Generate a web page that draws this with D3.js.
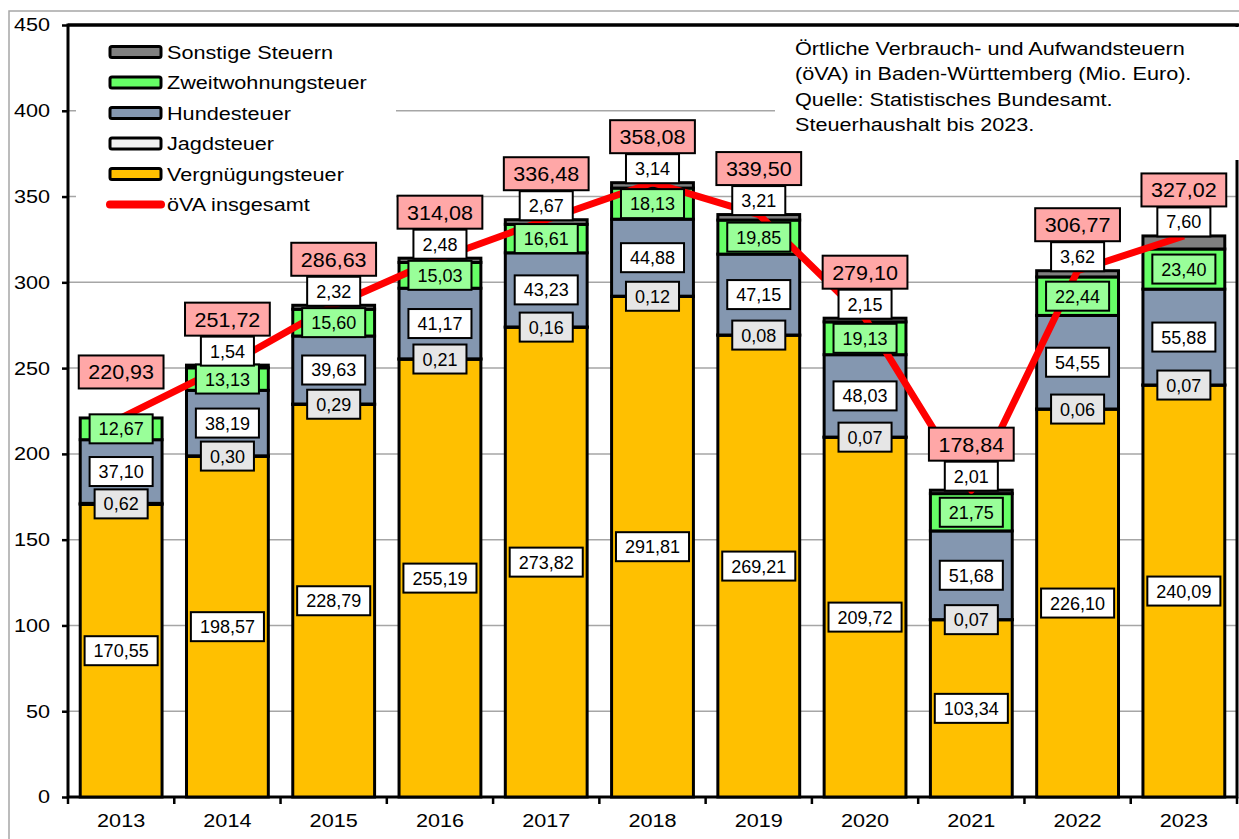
<!DOCTYPE html>
<html>
<head>
<meta charset="utf-8">
<title>öVA Baden-Württemberg</title>
<style>
  body { margin: 0; background: #fff; }
  svg { display: block; font-family: "Liberation Sans", Arial, sans-serif; }
</style>
</head>
<body>
<script src="https://cdn.jsdelivr.net/npm/d3@7"></script>
<script>

// data (Mio. Euro)
var years          = ["2013","2014","2015","2016","2017","2018","2019","2020","2021","2022","2023"];
var vergnuegung    = [170.55, 198.57, 228.79, 255.19, 273.82, 291.81, 269.21, 209.72, 103.34, 226.10, 240.09];
var jagd           = [0.62, 0.30, 0.29, 0.21, 0.16, 0.12, 0.08, 0.07, 0.07, 0.06, 0.07];
var hunde          = [37.10, 38.19, 39.63, 41.17, 43.23, 44.88, 47.15, 48.03, 51.68, 54.55, 55.88];
var zweitwohnung   = [12.67, 13.13, 15.60, 15.03, 16.61, 18.13, 19.85, 19.13, 21.75, 22.44, 23.40];
var sonstige       = [0, 1.54, 2.32, 2.48, 2.67, 3.14, 3.21, 2.15, 2.01, 3.62, 7.60];
var insgesamt      = [220.93, 251.72, 286.63, 314.08, 336.48, 358.08, 339.50, 279.10, 178.84, 306.77, 327.02];
var yTicks         = [0, 50, 100, 150, 200, 250, 300, 350, 400, 450];

var legendNames = ["Sonstige Steuern", "Zweitwohnungsteuer", "Hundesteuer", "Jagdsteuer", "Vergnügungsteuer", "öVA insgesamt"];
var noteLines = [
  "Örtliche Verbrauch- und Aufwandsteuern",
  "(öVA) in Baden-Württemberg (Mio. Euro).",
  "Quelle: Statistisches Bundesamt.",
  "Steuerhaushalt bis 2023."
];

var series = [
  {key: "Vergnügungsteuer",   values: vergnuegung,  fill: "#FFC000", labelFill: "#FFFFFF"},
  {key: "Jagdsteuer",         values: jagd,         fill: "#F2F2F2", labelFill: "#E6E6E6"},
  {key: "Hundesteuer",        values: hunde,        fill: "#8497B0", labelFill: "#FFFFFF"},
  {key: "Zweitwohnungsteuer", values: zweitwohnung, fill: "#66FF66", labelFill: "#99FF99"},
  {key: "Sonstige Steuern",   values: sonstige,     fill: "#808080", labelFill: "#FFFFFF"}
];

var W = 1239, H = 839;
var pLeft = 68, pRight = 1237, pTop = 25, pBottom = 797;
var sx = 1.17;   // the reference text is drawn a bit wider than normal
var fmt = d3.format(".2f");
var de = v => fmt(v).replace(".", ",");

var svg = d3.select("body").append("svg")
    .attr("width", W)
    .attr("height", H);

var x = d3.scaleBand()
    .domain(years)
    .range([pLeft, pRight])
    .paddingInner(0.23)
    .paddingOuter(0.115);

var y = d3.scaleLinear()
    .domain([0, 450])
    .range([pBottom, pTop]);

// outer frame
svg.append("rect")
    .attr("x", 9).attr("y", 11)
    .attr("width", W).attr("height", H)
    .attr("fill", "none")
    .attr("stroke", "#A6A6A6")
    .attr("stroke-width", 1.5);

// gridlines
svg.append("g")
  .selectAll("line")
  .data(yTicks.filter(t => t > 0))
  .enter().append("line")
    .attr("x1", pLeft).attr("x2", pRight)
    .attr("y1", d => y(d)).attr("y2", d => y(d))
    .attr("stroke", "#A6A6A6")
    .attr("stroke-width", 1.5);

// plot frame
svg.append("rect")
    .attr("x", pLeft).attr("y", pTop)
    .attr("width", pRight - pLeft).attr("height", pBottom - pTop)
    .attr("fill", "none")
    .attr("stroke", "#000")
    .attr("stroke-width", 3);

// white backgrounds of legend and note
svg.append("rect")
    .attr("x", 76).attr("y", 28).attr("width", 320).attr("height", 190)
    .attr("fill", "#fff");
svg.append("rect")
    .attr("x", 775).attr("y", 27).attr("width", W - 775).attr("height", 133)
    .attr("fill", "#fff");
svg.append("line")
    .attr("x1", pLeft).attr("x2", W)
    .attr("y1", pTop).attr("y2", pTop)
    .attr("stroke", "#000").attr("stroke-width", 3);

// stacked bars
var stacked = years.map(function(yr, i) {
  var base = 0;
  return series.map(function(s) {
    var seg = {year: yr, s: s, v: s.values[i], y0: base, y1: base + s.values[i]};
    base += s.values[i];
    return seg;
  });
});

var bars = svg.append("g");
stacked.forEach(function(segs) {
  bars.selectAll(null)
    .data(segs.filter(d => d.v > 0))
    .enter().append("rect")
      .attr("x", d => x(d.year))
      .attr("width", x.bandwidth())
      .attr("y", d => y(d.y1))
      .attr("height", d => y(d.y0) - y(d.y1))
      .attr("fill", d => d.s.fill)
      .attr("stroke", "#000")
      .attr("stroke-width", 3);
});

// total line
var line = d3.line()
    .x((d, i) => x(years[i]) + x.bandwidth() / 2)
    .y(d => y(d));

svg.append("path")
    .datum(insgesamt)
    .attr("d", line)
    .attr("fill", "none")
    .attr("stroke", "#FF0000")
    .attr("stroke-width", 7)
    .attr("stroke-linejoin", "round");

// labels
function addLabel(cx, cy, txt, fill, size, padX, h, stretch) {
  var g = svg.append("g").attr("transform", `translate(${cx},${cy})`);
  var t = g.append("text")
      .attr("text-anchor", "middle")
      .attr("dy", "0.36em")
      .attr("transform", `scale(${stretch},1)`)
      .style("font-size", size + "px")
      .text(txt);
  var w = t.node().getComputedTextLength() * stretch + padX;
  g.insert("rect", "text")
      .attr("x", -w / 2).attr("y", -h / 2)
      .attr("width", w).attr("height", h)
      .attr("fill", fill)
      .attr("stroke", "#000")
      .attr("stroke-width", 2);
}

stacked.forEach(function(segs, i) {
  var cx = x(years[i]) + x.bandwidth() / 2;
  var topY = y(segs[4].y1);
  segs.slice(0, 4).forEach(function(d) {
    addLabel(cx, y((d.y0 + d.y1) / 2), de(d.v), d.s.labelFill, 18, 18, 29, 1);
  });
  if (segs[4].v > 0) addLabel(cx, topY - 14, de(segs[4].v), "#FFFFFF", 18, 18, 29, 1);
  addLabel(cx, topY - 46, de(insgesamt[i]), "#FFA7A7", 20.5, 19, 33, 1.05);
});

// y axis
var yAxis = svg.append("g")
    .attr("transform", `translate(${pLeft},0)`)
    .call(d3.axisLeft(y).tickValues(yTicks).tickSize(6).tickSizeOuter(0));
yAxis.select(".domain").remove();
yAxis.selectAll(".tick line").attr("stroke", "#000").attr("stroke-width", 2.5);
yAxis.selectAll(".tick text")
    .attr("x", -18 / sx)
    .attr("transform", `scale(${sx},1)`)
    .style("font-size", "18.5px")
    .style("font-family", "Liberation Sans, Arial, sans-serif")
    .attr("fill", "#000");

// x axis
var xAxis = svg.append("g")
    .attr("transform", `translate(0,${pBottom})`)
    .call(d3.axisBottom(x).tickSize(0).tickPadding(17));
xAxis.select(".domain").remove();
xAxis.selectAll(".tick text")
    .attr("transform", `scale(${sx},1)`)
    .style("font-size", "18.5px")
    .style("font-family", "Liberation Sans, Arial, sans-serif")
    .attr("fill", "#000");

svg.append("g")
  .selectAll("line")
  .data(d3.range(years.length + 1))
  .enter().append("line")
    .attr("x1", i => pLeft + i * x.step())
    .attr("x2", i => pLeft + i * x.step())
    .attr("y1", pBottom).attr("y2", pBottom + 7)
    .attr("stroke", "#000")
    .attr("stroke-width", 2.5);

// legend
var legendFills = ["#808080", "#66FF66", "#8497B0", "#F2F2F2", "#FFC000"];
var legend = svg.append("g");
legendNames.forEach(function(name, i) {
  var cy = 52 + i * 30.5;
  if (i < 5) {
    legend.append("rect")
        .attr("x", 110).attr("y", cy - 5.5)
        .attr("width", 51).attr("height", 11)
        .attr("rx", 2)
        .attr("fill", legendFills[i])
        .attr("stroke", "#000")
        .attr("stroke-width", 3);
  } else {
    legend.append("line")
        .attr("x1", 110).attr("x2", 161)
        .attr("y1", cy).attr("y2", cy)
        .attr("stroke", "#FF0000")
        .attr("stroke-width", 8)
        .attr("stroke-linecap", "round");
  }
  legend.append("text")
      .attr("transform", `translate(167,${cy}) scale(${sx},1)`)
      .attr("dy", "0.36em")
      .style("font-size", "18.5px")
      .text(name);
});

// note
svg.append("g")
  .selectAll("text")
  .data(noteLines)
  .enter().append("text")
    .attr("transform", (d, i) => `translate(795,${48 + i * 25.5}) scale(${sx},1)`)
    .attr("dy", "0.36em")
    .style("font-size", "18.5px")
    .text(d => d);

</script>
</body>
</html>
